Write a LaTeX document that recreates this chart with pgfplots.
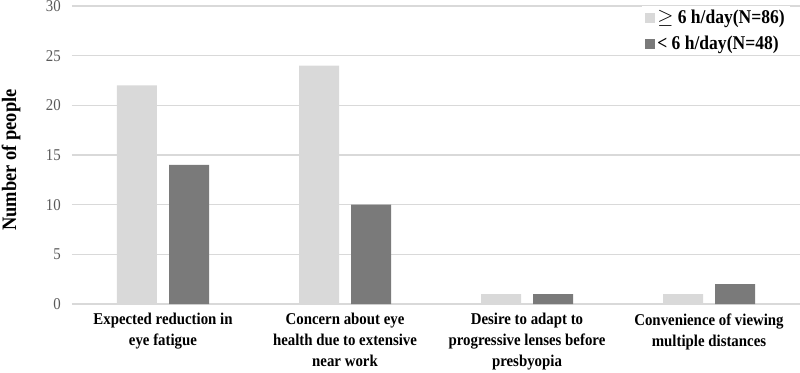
\documentclass[border=0pt]{standalone}
\usepackage{pgfplots}
\pgfplotsset{compat=1.18}
\usepackage{fontspec}
\setmainfont[FakeStretch=0.9]{Liberation Serif}
\definecolor{lightbar}{HTML}{D9D9D9}
\definecolor{darkbar}{HTML}{7A7A7A}
\definecolor{gridc}{HTML}{D9D9D9}
\begin{document}
\begin{tikzpicture}[x=1pt,y=1pt]
\begin{axis}[
  at={(0pt,0pt)}, anchor=south west,
  scale only axis, width=728pt, height=298pt,
  xmin=-0.5, xmax=3.5, ymin=0, ymax=30,
  ytick={0,5,...,30},
  xtick={0,1,2,3},
  xticklabels={{Expected reduction in\\eye fatigue},{Concern about eye\\health due to extensive\\near work},{Desire to adapt to\\progressive lenses before\\presbyopia},{Convenience of viewing\\multiple distances}},
  xticklabel style={align=center, font=\fontsize{16.5}{21}\selectfont\bfseries, yshift=-6pt},
  yticklabel style={font=\fontsize{16.5}{18}\selectfont, text=black!65, xshift=-10pt, inner sep=1pt},
  /pgf/number format/assume math mode=true,
  ylabel={Number of people},
  ylabel style={font=\fontsize{20.5}{22}\selectfont\bfseries, at={(-61pt,144pt)}, anchor=center, inner sep=1pt},
  axis lines*=left,
  y axis line style={draw=none},
  x axis line style={draw=gridc, line width=1.2pt, -},
  ymajorgrids, grid style={draw=gridc, line width=1.2pt},
  major tick length=0pt,
  ybar, bar width=40pt,
  legend style={draw=none, fill=white, at={(1,1)}, anchor=north east, font=\fontsize{19.5}{22}\selectfont\bfseries, row sep=7pt, xshift=-10pt, yshift=0pt},
  legend cell align=left,
  legend image code/.code={\fill[#1] (0pt,-5pt) rectangle (10pt,5pt);},
]
\addplot[fill=lightbar, draw=none, bar shift=-26pt] coordinates {(0,22) (1,24) (2,1) (3,1)};
\addplot[fill=darkbar, draw=none, bar shift=26pt] coordinates {(0,14) (1,10) (2,1) (3,2)};
\legend{{$\geq$ 6 h/day(N=86)},{< 6 h/day(N=48)}}
\end{axis}
\pgfresetboundingbox
\path (-72pt,-68pt) rectangle (728pt,304pt);
\end{tikzpicture}
\end{document}
